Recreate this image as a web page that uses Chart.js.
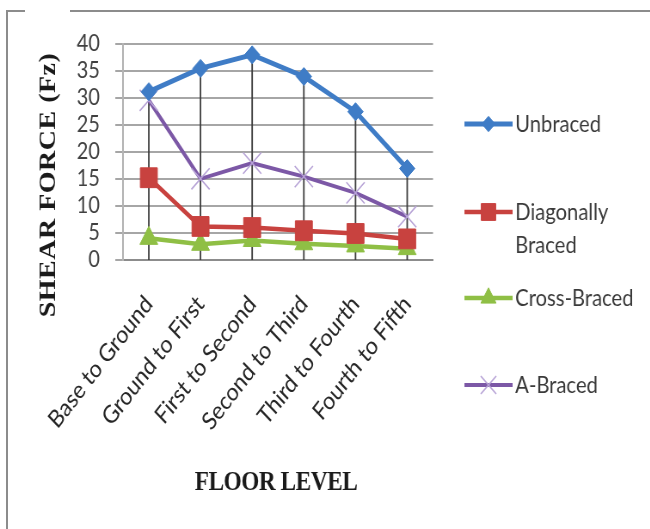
<!DOCTYPE html>
<html>
<head>
<meta charset="utf-8">
<script src="https://cdn.jsdelivr.net/npm/chart.js@4.4.1/dist/chart.umd.min.js"></script>
<style>
  html, body { margin: 0; padding: 0; background: #fff; overflow: hidden; }
  #wrap { position: relative; width: 650px; height: 529px; overflow: hidden; }
  #c { position: absolute; left: 0; top: 0; transform: scaleX(0.86); transform-origin: 0 0; }
  .frame { position: absolute; background: #8c8c8c; }
</style>
</head>
<body>
<div id="wrap">
  <canvas id="c" width="756" height="529"></canvas>
  <div class="frame" style="left:6px;top:10px;width:2px;height:519px"></div>
  <div class="frame" style="left:6px;top:10px;width:19px;height:2px"></div>
  <div class="frame" style="left:70px;top:10px;width:580px;height:2px"></div>
</div>
<script>
// Storey intervals along the building height
const floorLevels = ['Base to Ground', 'Ground to First', 'First to Second',
                     'Second to Third', 'Third to Fourth', 'Fourth to Fifth'];

// Shear force Fz per storey for each bracing system
const unbraced         = [31.1, 35.4, 37.9, 33.9, 27.4, 16.9];
const diagonallyBraced = [15.2, 6.2, 6.0, 5.4, 4.9, 3.9];
const crossBraced      = [4.0, 2.9, 3.6, 3.0, 2.6, 2.1];
const aBraced          = [29.5, 15.0, 17.9, 15.4, 12.4, 8.0];

// Value axis range
const yMin = 0, yMax = 40, yStep = 5;

const seriesNames = ['Unbraced', 'Diagonally Braced', 'Cross-Braced', 'A-Braced'];
const legendLines = [['Unbraced'], ['Diagonally', 'Braced'], ['Cross-Braced'], ['A-Braced']];

const LABEL_FONT = 'Lato, "Open Sans", sans-serif';
const TITLE_FONT = '"Liberation Serif", "DejaVu Serif", serif';

// Excel-style drop lines from the highest point down to the category axis
const dropLines = {
  id: 'dropLines',
  beforeDatasetsDraw(chart) {
    const { ctx, scales: { x, y } } = chart;
    ctx.save();
    ctx.strokeStyle = '#3c3c3c';
    ctx.lineWidth = 1.8;
    floorLevels.forEach((_, i) => {
      const top = Math.max(...chart.data.datasets.map(d => d.data[i]));
      const px = x.getPixelForValue(i);
      ctx.beginPath();
      ctx.moveTo(px, y.getPixelForValue(top));
      ctx.lineTo(px, y.getPixelForValue(yMin));
      ctx.stroke();
    });
    ctx.restore();
  }
};

// Axis titles in bold serif
const axisTitles = {
  id: 'axisTitles',
  afterDraw(chart) {
    const ctx = chart.ctx;
    ctx.save();
    ctx.fillStyle = '#1a1a1a';
    ctx.textAlign = 'center';
    ctx.textBaseline = 'middle';
    ctx.font = 'bold 28px ' + TITLE_FONT;
    if ('letterSpacing' in ctx) ctx.letterSpacing = '0.5px';
    ctx.translate(57, 185);
    ctx.rotate(-Math.PI / 2);
    ctx.fillText('SHEAR FORCE (Fz)', 0, 0);
    ctx.restore();

    ctx.save();
    ctx.fillStyle = '#1a1a1a';
    ctx.textAlign = 'center';
    ctx.textBaseline = 'middle';
    ctx.font = 'bold 27px ' + TITLE_FONT;
    if ('letterSpacing' in ctx) ctx.letterSpacing = '-0.5px';
    ctx.fillText('FLOOR LEVEL', 321, 483);
    ctx.restore();
  }
};

// Legend on the right, one entry per series with its line and marker
const sideLegend = {
  id: 'sideLegend',
  afterDraw(chart) {
    const ctx = chart.ctx;
    const rows = [124, 212, 298, 385];
    const x0 = 540, x1 = 596, tx = 599;
    chart.data.datasets.forEach((ds, i) => {
      const cy = rows[i];
      ctx.save();
      ctx.strokeStyle = ds.borderColor;
      ctx.lineWidth = ds.borderWidth;
      ctx.beginPath();
      ctx.moveTo(x0, cy);
      ctx.lineTo(x1, cy);
      ctx.stroke();
      ctx.fillStyle = ds.pointBackgroundColor;
      ctx.strokeStyle = ds.pointBorderColor;
      ctx.lineWidth = ds.pointBorderWidth;
      Chart.helpers.drawPoint(ctx, {
        pointStyle: ds.pointStyle,
        radius: ds.pointRadius * 0.85,
        rotation: 0,
        borderWidth: ds.pointBorderWidth
      }, (x0 + x1) / 2, cy);
      ctx.restore();

      ctx.save();
      ctx.fillStyle = '#3a3a3a';
      ctx.font = '23.5px ' + LABEL_FONT;
      ctx.textAlign = 'left';
      ctx.textBaseline = 'middle';
      const lines = legendLines[i];
      lines.forEach((t, k) => ctx.fillText(t, tx, cy + k * 33));
      ctx.restore();
    });
  }
};

function build() {
  new Chart(document.getElementById('c'), {
    type: 'line',
    data: {
      labels: floorLevels,
      datasets: [
        {
          label: seriesNames[0], data: unbraced,
          borderColor: '#3f7cc6', borderWidth: 5,
          pointStyle: 'rectRot', pointRadius: 9,
          pointBackgroundColor: '#3f7cc6', pointBorderColor: '#3f7cc6', pointBorderWidth: 1
        },
        {
          label: seriesNames[1], data: diagonallyBraced,
          borderColor: '#c8423f', borderWidth: 4.5,
          pointStyle: 'rect', pointRadius: 14,
          pointBackgroundColor: '#c8423f', pointBorderColor: '#c8423f', pointBorderWidth: 1
        },
        {
          label: seriesNames[2], data: crossBraced,
          borderColor: '#8fbf45', borderWidth: 4.5,
          pointStyle: 'triangle', pointRadius: 12,
          pointBackgroundColor: '#8fbf45', pointBorderColor: '#8fbf45', pointBorderWidth: 1
        },
        {
          label: seriesNames[3], data: aBraced,
          borderColor: '#7c58a6', borderWidth: 4,
          pointStyle: 'crossRot', pointRadius: 15,
          pointBackgroundColor: '#b7a3d6', pointBorderColor: '#b7a3d6', pointBorderWidth: 1.6
        }
      ]
    },
    options: {
      responsive: false,
      animation: false,
      devicePixelRatio: 1,
      layout: { padding: { left: 0, right: 252.5, top: 43.5, bottom: 0 } },
      elements: { line: { tension: 0 }, point: { hoverRadius: 0 } },
      plugins: { legend: { display: false }, tooltip: { enabled: false }, title: { display: false } },
      scales: {
        x: {
          type: 'category',
          offset: true,
          grid: { display: false },
          border: { display: true, color: '#8c8c8c', width: 2 },
          ticks: {
            autoSkip: false, minRotation: 48, maxRotation: 48,
            padding: 22,
            color: '#262626',
            font: { family: LABEL_FONT, size: 24.5 }
          },
          afterFit: s => { s.height = 269; }
        },
        y: {
          min: yMin, max: yMax,
          grid: { color: '#a6a6a6', lineWidth: 2, drawTicks: true, tickLength: 9, tickColor: '#a6a6a6' },
          border: { display: true, color: '#b4b4b4', width: 2 },
          ticks: {
            stepSize: yStep, autoSkip: false, padding: 18, color: '#404040',
            font: { family: LABEL_FONT, size: 23 }
          },
          afterFit: s => { s.width = 143; }
        }
      }
    },
    plugins: [dropLines, axisTitles, sideLegend]
  });
}

const loads = [
  document.fonts.load('23px Lato'),
  document.fonts.load('bold 28px "Liberation Serif"')
];
Promise.all(loads).then(build, build);
</script>
</body>
</html>
